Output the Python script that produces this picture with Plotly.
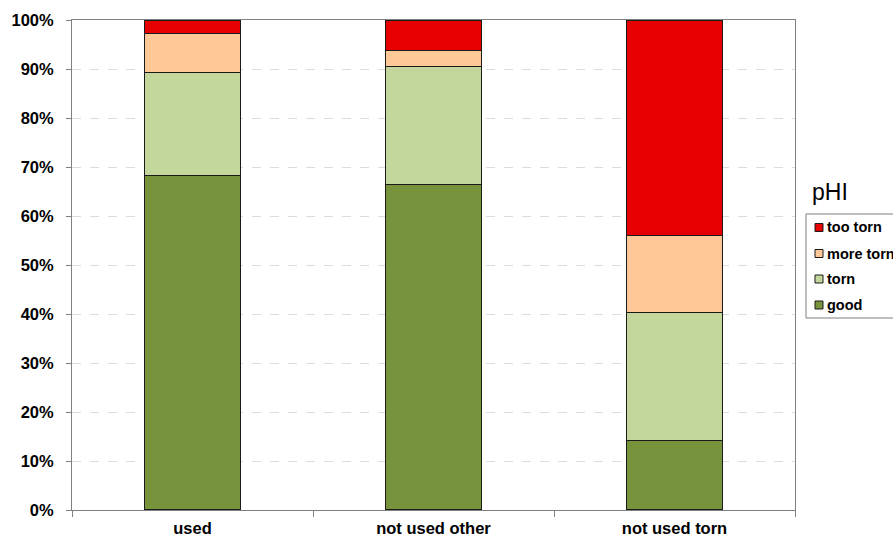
import plotly.graph_objects as go

# Share of items per condition class (percent of each group)
categories = ["used", "not used other", "not used torn"]
good = [68.2, 66.5, 14.1]
torn = [21.0, 24.0, 26.2]
more_torn = [8.0, 3.3, 15.8]
too_torn = [2.8, 6.2, 43.9]

series = [
    ("good", good, "#77933C"),
    ("torn", torn, "#C3D69B"),
    ("more torn", more_torn, "#FFC896"),
    ("too torn", too_torn, "#E60000"),
]

y_ticks = list(range(0, 101, 10))
y_labels = [f"{v}%" for v in y_ticks]

W, H = 893, 539
L, R, T, B = 72, 98, 20, 29
PW, PH = W - L - R, H - T - B


def px(xp):
    # page pixel x -> paper fraction
    return (xp - L) / PW


def py(yp):
    # page pixel y -> paper fraction
    return (H - B - yp) / PH


font_family = "Liberation Sans, Arial, sans-serif"

fig = go.Figure()
for name, vals, color in series:
    fig.add_trace(go.Bar(
        x=categories, y=vals, name=name,
        marker=dict(color=color, line=dict(color="#1a1a1a", width=1.1)),
        width=0.4, showlegend=False,
    ))

fig.update_layout(
    width=W, height=H,
    margin=dict(l=L, r=R, t=T, b=B, autoexpand=False),
    paper_bgcolor="white", plot_bgcolor="white",
    barmode="stack",
    font=dict(family=font_family, color="black"),
)

fig.update_xaxes(
    type="category", range=[-0.5, 2.5],
    tickson="boundaries", ticks="outside", ticklen=6, tickcolor="#808080",
    showline=True, linecolor="#808080", linewidth=1, mirror=True,
    tickfont=dict(family=font_family, size=16.5, color="black", weight="bold"),
    ticklabelstandoff=3,
    showgrid=False,
)
fig.update_yaxes(
    range=[0, 100], tickvals=y_ticks, ticktext=y_labels,
    ticks="outside", ticklen=5, tickcolor="#808080",
    showline=True, linecolor="#808080", linewidth=1, mirror=True,
    showgrid=True, gridcolor="#dcdcdc", griddash="dash", gridwidth=1,
    tickfont=dict(family=font_family, size=16.5, color="black", weight="bold"),
    ticklabelstandoff=9,
    zeroline=False,
)

# Legend title
fig.add_annotation(
    text="pHI", xref="paper", yref="paper", x=px(810), y=py(192),
    xanchor="left", yanchor="middle", showarrow=False,
    font=dict(family=font_family, size=23, color="black"),
)

# Legend frame
fig.add_shape(
    type="rect", xref="paper", yref="paper",
    x0=px(806), x1=px(905), y0=py(318), y1=py(214),
    line=dict(color="#7f7f7f", width=1), fillcolor="white", layer="above",
)

# Legend entries, top to bottom in reverse stacking order
row_y = [227.5, 253.5, 279, 305]
for (name, _, color), cy in zip(reversed(series), row_y):
    fig.add_shape(
        type="rect", xref="paper", yref="paper",
        x0=px(815), x1=px(823), y0=py(cy + 4), y1=py(cy - 4),
        line=dict(color="#1a1a1a", width=1), fillcolor=color, layer="above",
    )
    fig.add_annotation(
        text=name, xref="paper", yref="paper", x=px(825), y=py(cy),
        xanchor="left", yanchor="middle", showarrow=False,
        font=dict(family=font_family, size=14.5, color="black", weight="bold"),
    )

fig.write_html("out.html")
